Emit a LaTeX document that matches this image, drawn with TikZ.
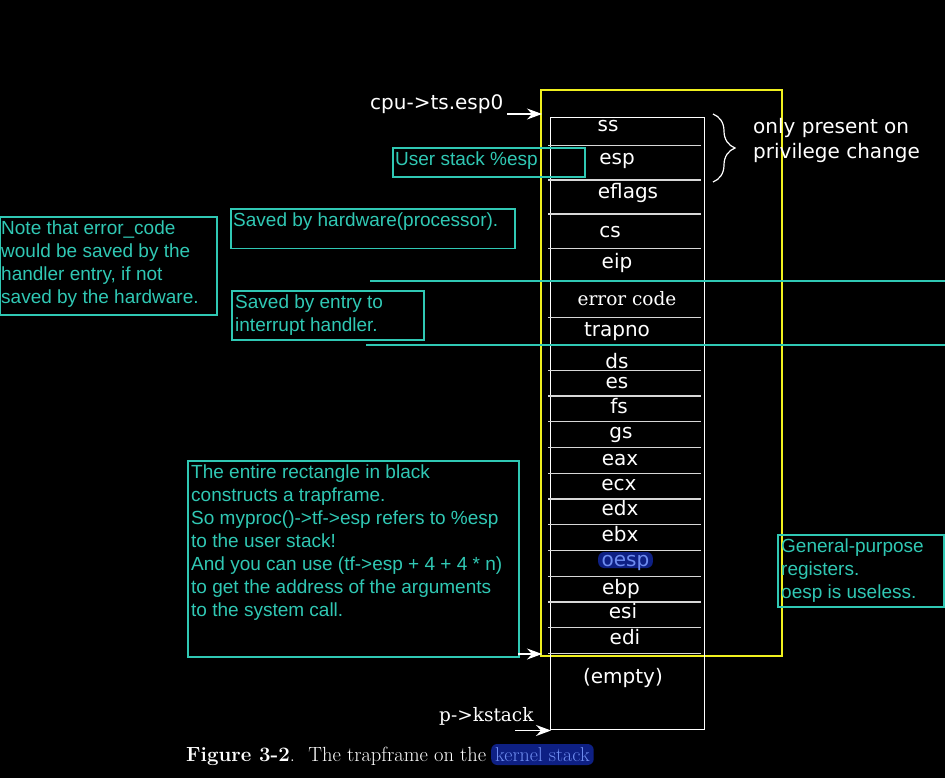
\documentclass[tikz,border=0pt]{standalone}
\usepackage{fontspec}
\newfontfamily\dvfont{DejaVu Sans}
\newfontfamily\dvserif{DejaVu Serif}
\newfontfamily\arfont{Liberation Sans}
\usetikzlibrary{decorations.pathreplacing,arrows.meta}
\definecolor{cyanc}{RGB}{48,200,180}
\definecolor{yelc}{RGB}{240,240,30}
\definecolor{hlbg}{RGB}{14,32,132}
\definecolor{hltext}{RGB}{110,140,240}
\definecolor{sepc}{RGB}{215,215,215}
\begin{document}
\begin{tikzpicture}[x=1pt,y=-1pt,
  lbl/.style={font=\dvfont\fontsize{20}{24}\selectfont, text=white, anchor=base, inner sep=0pt},
  serlbl/.style={font=\dvserif\fontsize{18.5}{22}\selectfont, text=white, anchor=base, inner sep=0pt},
  cbox/.style={draw=cyanc, line width=1.7pt, anchor=north west, inner sep=0pt},
  ctext/.style={font=\arfont\fontsize{19}{23}\selectfont, text=cyanc, anchor=base west, align=left, inner sep=0pt},
  sepline/.style={draw=sepc, line width=1.2pt},
  cline/.style={draw=cyanc, line width=1.8pt},
  warrow/.style={draw=white, line width=1.2pt, -{Stealth[length=15pt,width=11pt,inset=5pt]}},
  hl/.style={fill=hlbg, text=hltext, rounded corners=6pt}
]
\fill[black] (0,0) rectangle (945,778);
\useasboundingbox (0,0) rectangle (945,778);

% yellow frame and stack
\node[draw=yelc, line width=1.8pt, anchor=north west, minimum width=241pt, minimum height=566pt, inner sep=0pt] (frame) at (540,89) {};
\node[draw=white, line width=1.3pt, anchor=north west, minimum width=154pt, minimum height=612pt, inner sep=0pt] (stack) at (550,117) {};

% separators
\foreach \yy in {145.7,180,214,248.5,281,317.5,345,370.7,396,421.7,447.7,473.3,499,524.7,550.7,576.3,602,627.3,653.3}{
  \draw[sepline] (548,\yy) -- (701,\yy);
}

% cyan horizontal lines
\coordinate (c1a) at (370,281); \coordinate (c1b) at (945,281);
\coordinate (c2a) at (366,345); \coordinate (c2b) at (945,345);
\draw[cline] (c1a) -- (c1b);
\draw[cline] (c2a) -- (c2b);

% stack labels
\node[lbl] (ss) at (608,131.5) {ss};
\node[lbl] (esp) at (617,165) {esp};
\node[lbl] (eflags) at (628,199) {eflags};
\node[lbl] (cs) at (610,237) {cs};
\node[lbl] (eip) at (617,268) {eip};
\node[serlbl] (errcode) at (627,305) {error code};
\node[lbl] (trapno) at (617,336.5) {trapno};
\node[lbl] (ds) at (617,368) {ds};
\node[lbl] (es) at (617,388) {es};
\node[lbl] (fs) at (619,413) {fs};
\node[lbl] (gs) at (621,438) {gs};
\node[lbl] (eax) at (620,465) {eax};
\node[lbl] (ecx) at (619,490.5) {ecx};
\node[lbl] (edx) at (620,515.5) {edx};
\node[lbl] (ebx) at (620,541.5) {ebx};
\node[lbl, hl, inner xsep=3.5pt, inner ysep=2pt, text height=12pt, text depth=0pt] (oesp) at (625.5,566) {oesp};
\node[lbl] (ebp) at (621,594) {ebp};
\node[lbl] (esi) at (623,618) {esi};
\node[lbl] (edi) at (625,644) {edi};
\node[lbl] (empty) at (623,683) {(empty)};

% pointers
\node[lbl, anchor=base west] (cpu) at (370,110) {cpu->ts.esp0};
\coordinate (cpuA) at (507,114);
\coordinate (cpuB) at (542,114);
\draw[warrow] (cpuA) -- (cpuB);
\node[serlbl, anchor=base west] (kst) at (439,721) {p->kstack};
\coordinate (kA) at (515,730.5);
\coordinate (kB) at (551,730.5);
\draw[warrow] (kA) -- (kB);

% brace
\draw[white, line width=1.2pt, decorate, decoration={brace, amplitude=22pt}] (713,114) -- (713,182);
\node[lbl, anchor=base west] (priv) at (753,134) {only present on};
\node[lbl, anchor=base west] (priv2) at (753,159) {privilege change};

% cyan boxes
\node[cbox, minimum width=192pt, minimum height=29pt] (userbox) at (392,147) {};
\node[ctext] (usertxt) at (395,166) {User stack \%esp};

\node[cbox, minimum width=284pt, minimum height=39pt] (hwbox) at (230,208.5) {};
\node[ctext] (hwtxt) at (233,226) {Saved by hardware(processor).};

\node[cbox, minimum width=217pt, minimum height=98pt] (notebox) at (-1,216) {};
\node[ctext] (notetxt) at (1,303) {Note that error\_code\\would be saved by the\\handler entry, if not\\saved by the hardware.};

\node[cbox, minimum width=192pt, minimum height=49pt] (entrybox) at (231,290) {};
\node[ctext] (entrytxt) at (235,331) {Saved by entry to\\interrupt handler.};

\node[cbox, minimum width=331pt, minimum height=196pt] (bigbox) at (187,460) {};
\node[ctext] (bigtxt) at (191,616) {The entire rectangle in black\\constructs a trapframe.\\So myproc()->tf->esp refers to \%esp\\to the user stack!\\And you can use (tf->esp + 4 + 4 * n)\\to get the address of the arguments\\to the system call.};
\coordinate (bigA) at (518,654);
\coordinate (bigB) at (542,654);
\draw[warrow] (bigA) -- (bigB);

\node[cbox, minimum width=166pt, minimum height=72pt] (gpbox) at (777,534) {};
\node[ctext] (gptxt) at (781,598) {General-purpose\\registers.\\oesp is useless.};

% caption
\node[anchor=base west, inner sep=0pt, text=white, font=\rmfamily\fontsize{20.5}{24}\selectfont] (cap) at (186,761) {\textbf{Figure 3-2}.\hspace{0.25em} The trapframe on the};
\node[anchor=base west, hl, inner xsep=4pt, inner ysep=3pt, text height=14pt, text depth=1pt, font=\rmfamily\fontsize{20}{24}\selectfont] (capk) at (491,761) {kernel stack};
\end{tikzpicture}
\end{document}
